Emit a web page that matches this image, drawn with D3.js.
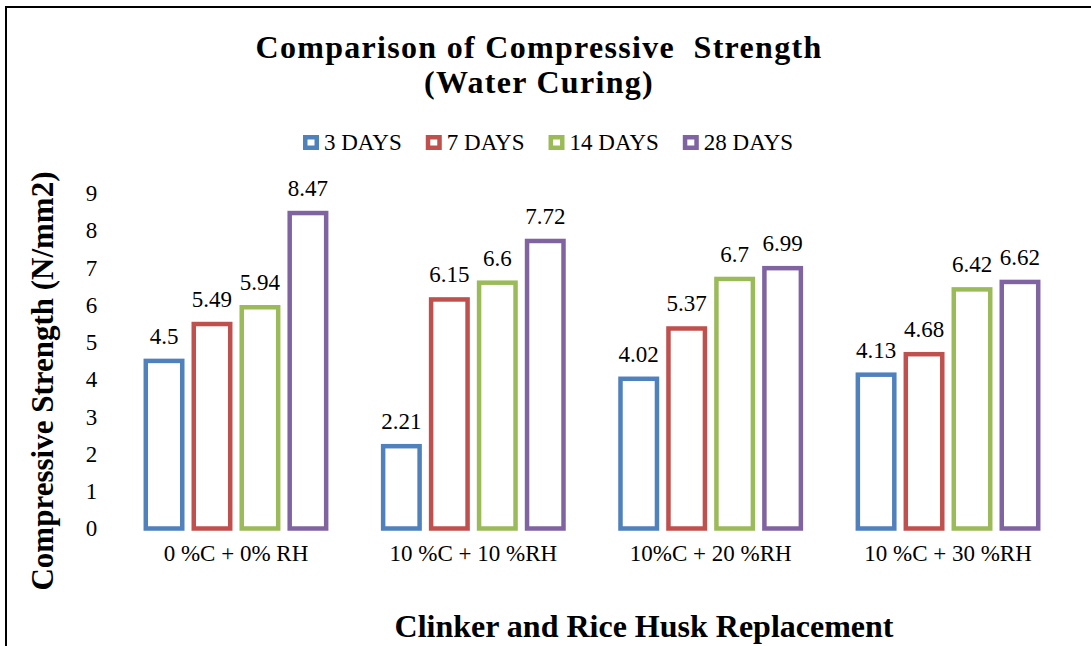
<!DOCTYPE html>
<html>
<head>
<meta charset="utf-8">
<script src="https://cdn.jsdelivr.net/npm/d3@7"></script>
<style>
  html, body { margin: 0; padding: 0; background: #fff; }
  svg { display: block; }
  svg text { font-family: "Liberation Serif", "Times New Roman", serif; fill: #000; }
</style>
</head>
<body>
<svg id="chart" width="1091" height="646"></svg>
<script>
// Compressive strength (N/mm2) of mixes under water curing
const categories = ["0 %C + 0% RH", "10 %C + 10 %RH", "10%C + 20 %RH", "10 %C + 30 %RH"];
const seriesNames = ["3 DAYS", "7 DAYS", "14 DAYS", "28 DAYS"];
const days3  = [4.5, 2.21, 4.02, 4.13];
const days7  = [5.49, 6.15, 5.37, 4.68];
const days14 = [5.94, 6.6, 6.7, 6.42];
const days28 = [8.47, 7.72, 6.99, 6.62];
const yTicks = [0, 1, 2, 3, 4, 5, 6, 7, 8, 9];
const colors = ["#4F81BD", "#C0504D", "#9BBB59", "#8064A2"];

const seriesValues = [days3, days7, days14, days28];
const table = categories.map((c, i) => ({
  category: c,
  values: seriesNames.map((s, j) => ({ series: s, value: seriesValues[j][i], color: colors[j] }))
}));

const svg = d3.select("#chart");
const W = 1091, H = 646;
const plot = { left: 117.3, right: 1066.7, top: 193.3, bottom: 528.5 };
const sw = 4.5; // bar outline width

// outer frame (open on right and bottom)
svg.append("rect")
  .attr("x", 6).attr("y", 7)
  .attr("width", W + 20).attr("height", H + 20)
  .attr("fill", "none").attr("stroke", "#000").attr("stroke-width", 2);

// title
const title = svg.append("text")
  .attr("text-anchor", "middle")
  .attr("font-weight", "bold")
  .attr("font-size", 32)
  .attr("letter-spacing", 1.3)
  .style("white-space", "pre");
title.append("tspan").attr("x", 539).attr("y", 58).text("Comparison of Compressive  Strength");
title.append("tspan").attr("x", 539).attr("y", 93).text("(Water Curing)");

// scales
const x0 = d3.scaleBand().domain(categories).range([plot.left, plot.right]).padding(0);
const x1 = d3.scaleBand().domain(seriesNames).range([0, x0.bandwidth()])
  .paddingInner(0.146).paddingOuter(0.547);
const y = d3.scaleLinear().domain([0, 9]).range([plot.bottom, plot.top]);

// y axis (labels only)
const yAxis = svg.append("g")
  .attr("transform", `translate(${plot.left},0)`)
  .call(d3.axisLeft(y).tickValues(yTicks).tickSize(0).tickPadding(20).tickFormat(d3.format("d")));
yAxis.select(".domain").remove();
yAxis.selectAll("text").attr("font-size", 23);

// x axis category labels
const xAxis = svg.append("g")
  .attr("transform", `translate(0,${plot.bottom})`)
  .call(d3.axisBottom(x0).tickSize(0).tickPadding(16));
xAxis.select(".domain").remove();
xAxis.selectAll("text").attr("font-size", 23).attr("dy", "0.71em");

// bars
const groups = svg.append("g").selectAll("g")
  .data(table).join("g")
  .attr("transform", d => `translate(${x0(d.category)},0)`);

groups.selectAll("rect")
  .data(d => d.values).join("rect")
  .attr("x", d => x1(d.series) + sw / 2)
  .attr("width", x1.bandwidth() - sw)
  .attr("y", d => y(d.value))
  .attr("height", d => y(0) - y(d.value))
  .attr("fill", "#fff")
  .attr("stroke", d => d.color)
  .attr("stroke-width", sw);

groups.selectAll("text.val")
  .data(d => d.values).join("text")
  .attr("class", "val")
  .attr("x", d => x1(d.series) + x1.bandwidth() / 2)
  .attr("y", d => y(d.value) - 17)
  .attr("text-anchor", "middle")
  .attr("font-size", 23)
  .text(d => d.value);

// legend
const legend = svg.append("g");
let lx = 303;
seriesNames.forEach((s, i) => {
  legend.append("rect")
    .attr("x", lx + sw / 2).attr("y", 135 + sw / 2)
    .attr("width", 16 - sw).attr("height", 15 - sw)
    .attr("fill", "#fff").attr("stroke", colors[i]).attr("stroke-width", sw);
  const t = legend.append("text")
    .attr("x", lx + 21).attr("y", 150)
    .attr("font-size", 23)
    .text(s);
  lx += 21 + t.node().getComputedTextLength() + 24;
});

// axis titles
svg.append("text")
  .attr("x", 644).attr("y", 637)
  .attr("text-anchor", "middle")
  .attr("font-weight", "bold").attr("font-size", 32)
  .text("Clinker and Rice Husk Replacement");

svg.append("text")
  .attr("transform", "translate(53,381) rotate(-90)")
  .attr("text-anchor", "middle")
  .attr("font-weight", "bold").attr("font-size", 31)
  .text("Compressive Strength (N/mm2)");
</script>
</body>
</html>
